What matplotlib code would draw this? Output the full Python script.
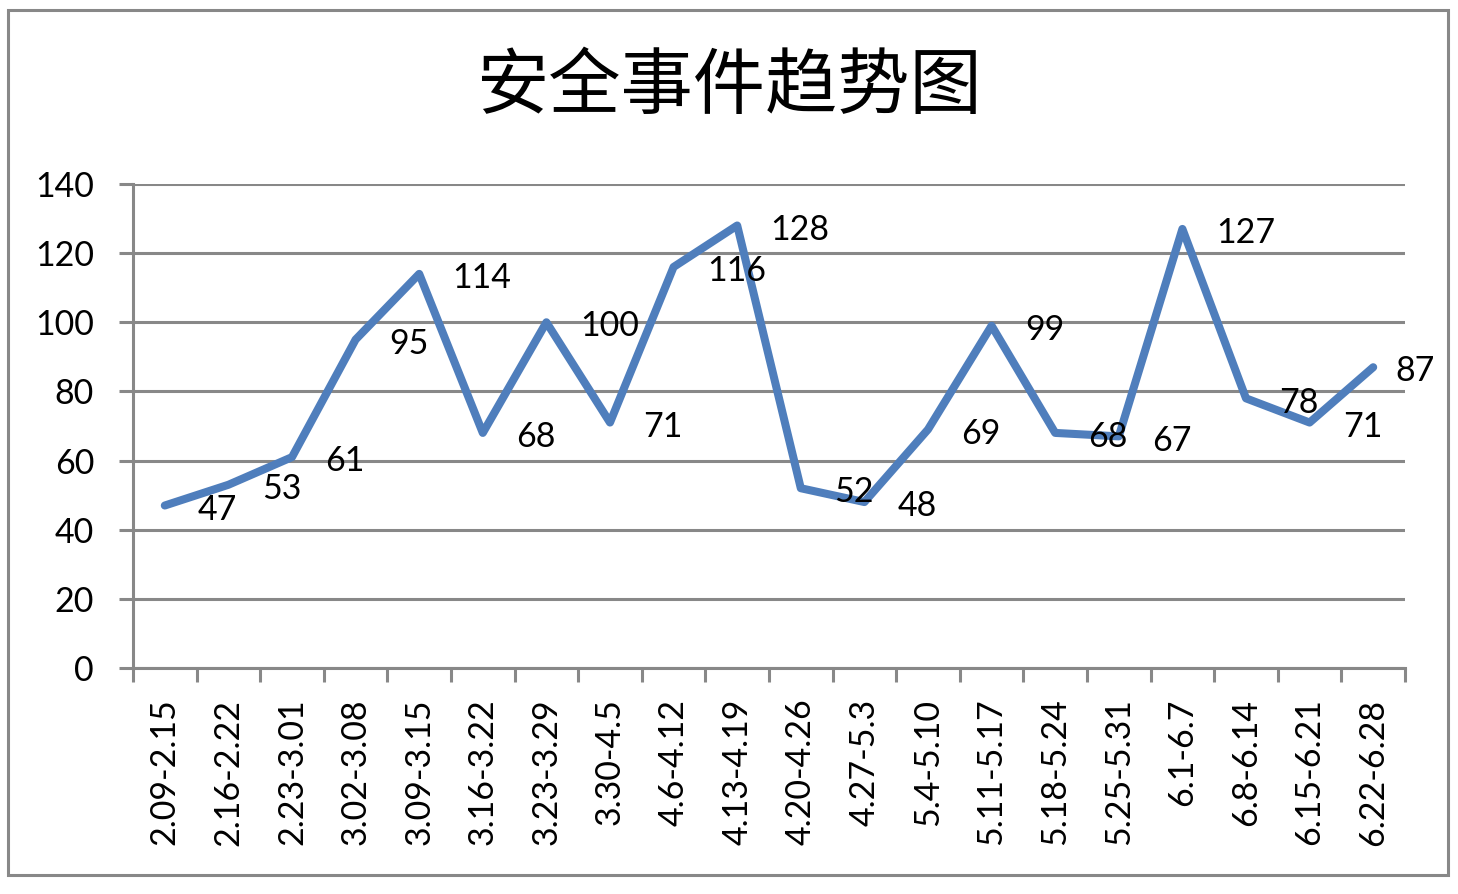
import matplotlib.pyplot as plt
from matplotlib.patches import Rectangle

# Data
weeks = [
    "2.09-2.15", "2.16-2.22", "2.23-3.01", "3.02-3.08", "3.09-3.15",
    "3.16-3.22", "3.23-3.29", "3.30-4.5", "4.6-4.12", "4.13-4.19",
    "4.20-4.26", "4.27-5.3", "5.4-5.10", "5.11-5.17", "5.18-5.24",
    "5.25-5.31", "6.1-6.7", "6.8-6.14", "6.15-6.21", "6.22-6.28",
]
events = [47, 53, 61, 95, 114, 68, 100, 71, 116, 128,
          52, 48, 69, 99, 68, 67, 127, 78, 71, 87]
y_ticks = [0, 20, 40, 60, 80, 100, 120, 140]

grey = "#888888"
blue = "#4F7EBC"

plt.rcParams["font.family"] = ["Lato", "DejaVu Sans"]

fig = plt.figure(figsize=(14.58, 8.94), dpi=100)
ax = fig.add_axes([133 / 1458, 1 - 668 / 894, (1405 - 133) / 1458, (668 - 184) / 894])

x = list(range(len(weeks)))
ax.plot(x, events, color=blue, linewidth=5.8, solid_joinstyle="round",
        solid_capstyle="round", zorder=3)

# data labels to the right of each point (last one kept inside the frame)
for xi, v in zip(x, events):
    dx = 16 if xi == len(weeks) - 1 else 24
    ax.annotate(str(v), (xi, v), xytext=(dx, -3), textcoords="offset points",
                ha="left", va="center", fontsize=24.5, color="black", zorder=4)

ax.set_xlim(-0.5, len(weeks) - 0.5)
ax.set_ylim(0, 140)
ax.set_yticks(y_ticks)
ax.set_yticklabels([str(t) for t in y_ticks], fontsize=24.5)
ax.yaxis.grid(True, color=grey, linewidth=2.2)
ax.set_axisbelow(True)

ax.set_xticks(x)
ax.set_xticklabels(weeks, rotation=90, fontsize=24.5)
ax.set_xticks([i - 0.5 for i in range(len(weeks) + 1)], minor=True)
ax.tick_params(axis="x", which="major", length=0, pad=22)
ax.tick_params(axis="x", which="minor", length=10, width=2.2, color=grey)
ax.tick_params(axis="y", length=10, width=2.2, color=grey, pad=18)

for side in ["top", "right"]:
    ax.spines[side].set_visible(False)
for side in ["left", "bottom"]:
    ax.spines[side].set_color(grey)
    ax.spines[side].set_linewidth(2.2)

fig.text(729 / 1458, 1 - 87 / 894, "安全事件趋势图", ha="center", va="center",
         fontsize=52, fontweight="medium", family=["Noto Sans CJK SC", "DejaVu Sans"])

# outer chart frame
fig.patches.append(Rectangle((8 / 1458, 1 - 875 / 894), (1448 - 8) / 1458, (875 - 10) / 894,
                             transform=fig.transFigure, fill=False,
                             edgecolor=grey, linewidth=2.2))

fig.savefig("out.png", dpi=100)
